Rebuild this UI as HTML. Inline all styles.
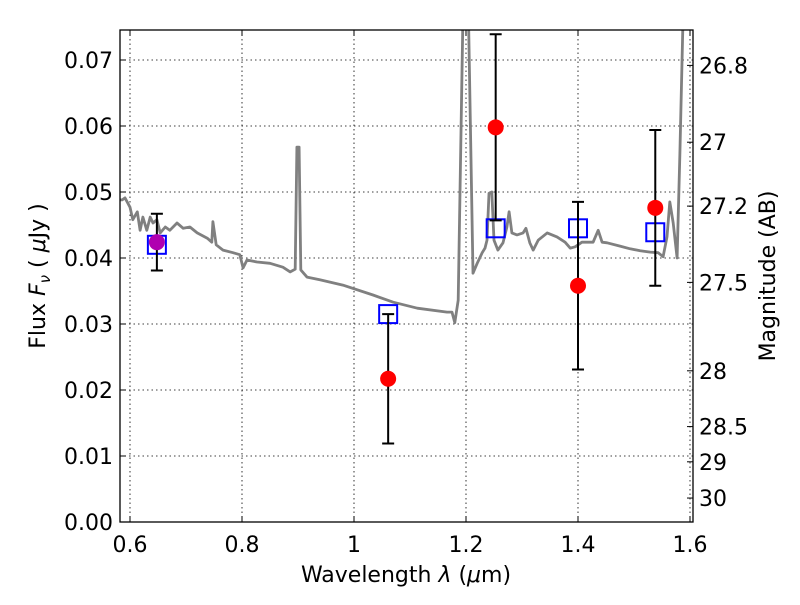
<!DOCTYPE html>
<html><head><meta charset="utf-8"><style>
body{margin:0;background:#fff}
svg text{font-family:"DejaVu Sans","Liberation Sans",sans-serif;fill:#000}
</style></head><body>
<svg id="chart" width="800" height="600" viewBox="0 0 800 600">
<defs><clipPath id="pc"><rect x="120" y="30" width="573" height="492"/></clipPath></defs>
<rect x="0" y="0" width="800" height="600" fill="#fff"/>
<g id="grid"></g>
<g id="spec" clip-path="url(#pc)"></g>
<g id="marks" clip-path="url(#pc)"></g>
<rect x="120" y="30" width="573" height="492" fill="none" stroke="#000" stroke-width="1.3"/>
<g id="axes"></g>
<text x="406" y="582" font-size="22" text-anchor="middle">Wavelength  <tspan font-style="italic">λ</tspan> (<tspan font-style="italic">μ</tspan>m)</text>
<text transform="translate(45,276) rotate(-90)" font-size="22" text-anchor="middle">Flux  <tspan font-style="italic">F</tspan><tspan font-style="italic" font-size="15" dy="5">ν</tspan><tspan dy="-5">  (  </tspan><tspan font-style="italic">μ</tspan>Jy )</text>
<text transform="translate(775,276) rotate(-90)" font-size="22" text-anchor="middle">Magnitude (AB)</text>
</svg>
<script>
const specLam=[0.582,0.586,0.591,0.600,0.605,0.613,0.618,0.623,0.630,0.636,0.641,0.648,0.654,0.663,0.671,0.684,0.695,0.707,0.720,0.738,0.746,0.748,0.754,0.766,0.784,0.796,0.802,0.809,0.827,0.850,0.873,0.886,0.895,0.898,0.902,0.905,0.916,0.939,0.980,1.034,1.070,1.113,1.166,1.175,1.180,1.186,1.195,1.204,1.2125,1.220,1.229,1.234,1.2375,1.241,1.246,1.250,1.257,1.266,1.273,1.277,1.282,1.291,1.302,1.307,1.314,1.320,1.329,1.345,1.3625,1.377,1.386,1.395,1.407,1.427,1.436,1.443,1.452,1.475,1.493,1.511,1.529,1.543,1.552,1.559,1.564,1.570,1.577,1.582,1.5875,1.593];
const specFlux=[0.0488,0.0488,0.0491,0.0477,0.0458,0.0470,0.0442,0.0462,0.0442,0.0462,0.0453,0.0458,0.0438,0.0447,0.0442,0.0453,0.0445,0.0447,0.0438,0.0430,0.0424,0.0455,0.0420,0.0412,0.0408,0.0405,0.0385,0.0397,0.0394,0.0392,0.0386,0.0379,0.0383,0.0568,0.0568,0.0382,0.0371,0.0367,0.0359,0.0344,0.0333,0.0324,0.0318,0.0318,0.0302,0.0336,0.079,0.079,0.0377,0.0392,0.0408,0.0415,0.0427,0.0498,0.0500,0.0427,0.0412,0.0423,0.0447,0.0470,0.0438,0.0435,0.0438,0.0445,0.0423,0.0412,0.0427,0.0438,0.0432,0.0424,0.0415,0.0417,0.0424,0.0424,0.0442,0.0424,0.0423,0.0418,0.0414,0.0411,0.0409,0.0408,0.0402,0.0432,0.0485,0.0453,0.0400,0.0559,0.0761,0.079];
const obsLam=[0.648,1.061,1.253,1.400,1.538];
const obsFlux=[0.0424,0.0217,0.0598,0.0358,0.0476];
const obsErr=[0.0043,0.0098,0.0141,0.0127,0.0118];
const modelFlux=[0.0420,0.0315,0.0445,0.0445,0.0439];
const xTicks=[0.6,0.8,1.0,1.2,1.4,1.6];
const xTickLabels=["0.6","0.8","1","1.2","1.4","1.6"];
const yTicks=[0,0.01,0.02,0.03,0.04,0.05,0.06,0.07];
const yTickLabels=["0.00","0.01","0.02","0.03","0.04","0.05","0.06","0.07"];
const magTicks=[26.8,27,27.2,27.5,28,28.5,29,30];
const magTickLabels=["26.8","27","27.2","27.5","28","28.5","29","30"];

const NS="http://www.w3.org/2000/svg";
const L=120,R=693,T=30,B=522;
function xs(l){return 130+(l-0.6)*560;}
function ys(f){return 522-f*6600;}
function mk(tag,at,parent){const e=document.createElementNS(NS,tag);for(const k in at)e.setAttribute(k,at[k]);parent.appendChild(e);return e;}
const grid=document.getElementById('grid'),axes=document.getElementById('axes'),spec=document.getElementById('spec'),marks=document.getElementById('marks');

xTicks.forEach((v,i)=>{const x=xs(v);
 let g=mk('line',{x1:x,x2:x,y1:T,y2:B,stroke:'#000','stroke-width':0.8,'stroke-dasharray':'1.5,3'},grid);
 
 let t1=mk('line',{x1:x,x2:x,y1:B,y2:B-6,stroke:'#000'},axes);
 
 let t2=mk('line',{x1:x,x2:x,y1:T,y2:T+6,stroke:'#000'},axes);
 
 let tx=mk('text',{x:x,y:B+30,'font-size':22,'text-anchor':'middle'},axes);tx.textContent=xTickLabels[i];
 
});
yTicks.forEach((v,i)=>{const y=ys(v);
 let g=mk('line',{x1:L,x2:R,y1:y,y2:y,stroke:'#000','stroke-width':0.8,'stroke-dasharray':'1.5,3'},grid);
 
 let t=mk('line',{x1:L,x2:L+6,y1:y,y2:y,stroke:'#000'},axes);
 
 let tx=mk('text',{x:L-7,y:y+8,'font-size':22,'text-anchor':'end'},axes);tx.textContent=yTickLabels[i];
 
});
magTicks.forEach((m,i)=>{const y=ys(Math.pow(10,(23.9-m)/2.5));
 let t=mk('line',{x1:R-6,x2:R,y1:y,y2:y,stroke:'#000'},axes);
 
 let tx=mk('text',{x:R+6,y:y+8,'font-size':22},axes);tx.textContent=magTickLabels[i];
 
});

let d=specLam.map((l,i)=>(i?'L':'M')+xs(l).toFixed(1)+','+ys(specFlux[i]).toFixed(1)).join('');
let p=mk('path',{d:d,fill:'none',stroke:'#808080','stroke-width':2.8,'stroke-linejoin':'round'},spec);


obsLam.forEach((l,i)=>{const x=xs(l);
 let s=mk('rect',{x:x-9,y:ys(modelFlux[i])-9,width:18,height:18,fill:'none',stroke:'#0000ff','stroke-width':2},marks);
 
});
obsLam.forEach((l,i)=>{const x=xs(l),y1=ys(obsFlux[i]+obsErr[i]),y2=ys(obsFlux[i]-obsErr[i]);
 let e=mk('path',{d:`M${x},${y1}L${x},${y2}M${x-6},${y1}L${x+6},${y1}M${x-6},${y2}L${x+6},${y2}`,stroke:'#000','stroke-width':2,fill:'none'},marks);
 
 let c=mk('circle',{cx:x,cy:ys(obsFlux[i]),r:8,fill:i===0?'#b000b0':'#ff0000'},marks);
 
});
</script>
</body></html>
